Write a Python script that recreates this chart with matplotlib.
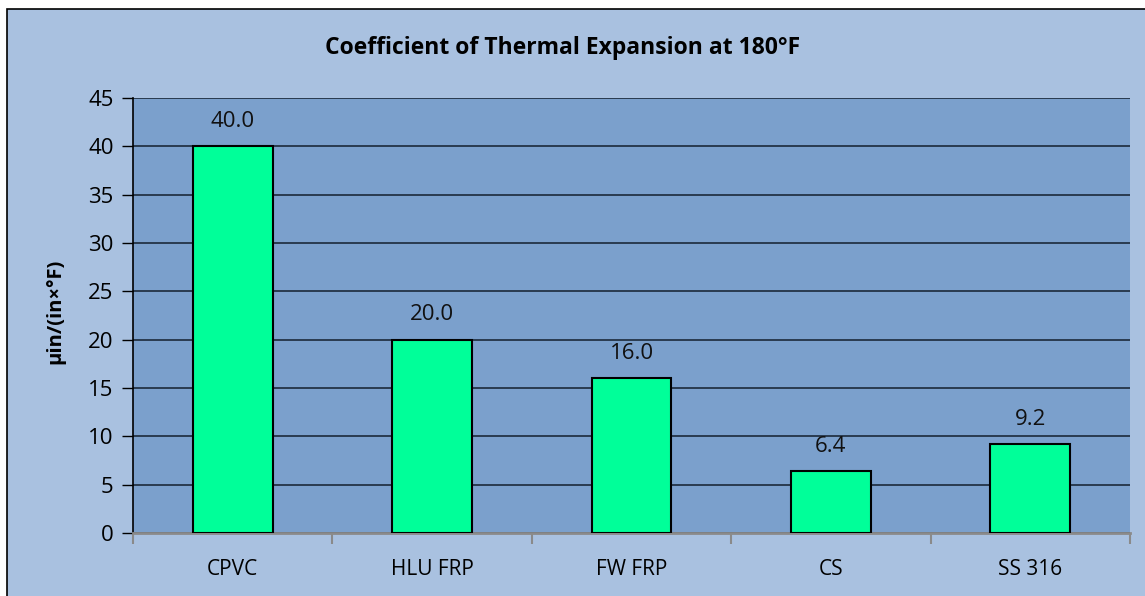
import matplotlib.pyplot as plt
import matplotlib.patches as mpatches
import numpy as np

plt.rcParams['font.family'] = ['Open Sans', 'DejaVu Sans']

materials = ['CPVC', 'HLU FRP', 'FW FRP', 'CS', 'SS 316']
cte = [40.0, 20.0, 16.0, 6.4, 9.2]
yticks = np.arange(0, 50, 5)

W, H = 1145, 596
fig = plt.figure(figsize=(W / 100, H / 100), dpi=100)
fig.patch.set_facecolor('white')

# chart area background with black border (top/left visible)
bg = mpatches.Rectangle((7 / W, -0.05), 1.05, 1 - 9 / H + 0.05, transform=fig.transFigure,
                        facecolor='#a9c1e0', edgecolor='black', linewidth=1.2, zorder=-10)
fig.patches.append(bg)

ax = fig.add_axes([133 / W, 1 - 533 / H, (1130 - 133) / W, (533 - 98) / H])
ax.set_facecolor('#7ba0cc')

x = np.arange(len(materials))
ax.bar(x, cte, width=0.4, color='#00ff99', edgecolor='black', linewidth=1.5, zorder=3)
for xi, v in zip(x, cte):
    ax.annotate(f'{v:.1f}', (xi, v), xytext=(0, 18), textcoords='offset points',
                ha='center', va='center', fontsize=16, color='#111111')

ax.set_xlim(-0.5, len(materials) - 0.5)
ax.set_ylim(0, 45)
ax.set_yticks(yticks)
ax.yaxis.grid(True, color='#1c2a3a', linewidth=1.2, zorder=1)
ax.set_axisbelow(True)
ax.set_xticks(x)
ax.set_xticklabels(materials, fontsize=15)
ax.tick_params(axis='x', length=0, pad=19)
ax.tick_params(axis='y', labelsize=16, length=8, width=1, pad=6, direction='out')
# category boundary ticks
ax.set_xticks(np.arange(-0.5, len(materials), 1.0), minor=True)
ax.tick_params(axis='x', which='minor', length=8, color='#8a8a8a', width=1.5)

for s in ['top', 'right']:
    ax.spines[s].set_visible(False)
ax.spines['left'].set_color('black')
ax.spines['left'].set_linewidth(1.2)
ax.spines['bottom'].set_color('#8a8a8a')
ax.spines['bottom'].set_linewidth(2)

ax.set_ylabel('µin/(in×°F)', fontsize=14.5, fontweight='bold', labelpad=12)
ax.yaxis.set_label_coords(-0.068, 0.51)
fig.text(563 / W, 1 - 48 / H, 'Coefficient of Thermal Expansion at 180°F',
         ha='center', va='center', fontsize=16.5, fontweight='bold')

fig.savefig('out.png', dpi=100)
